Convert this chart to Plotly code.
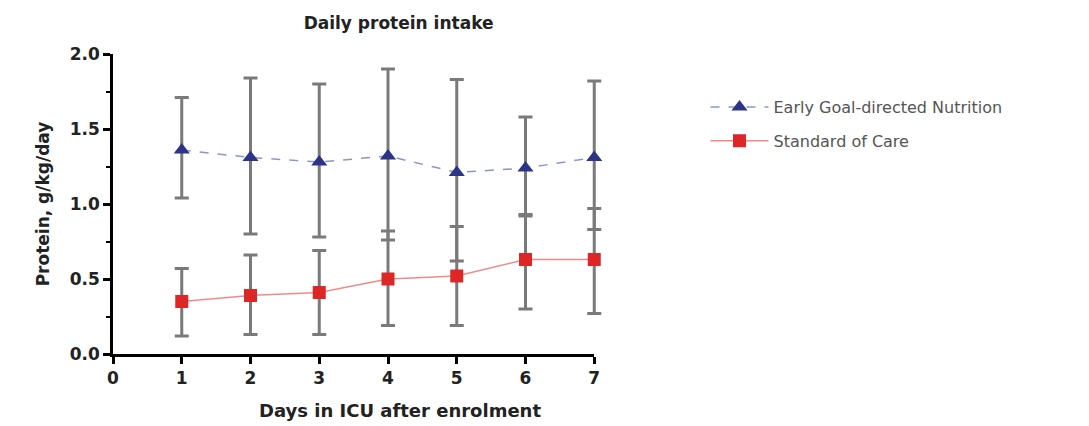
import plotly.graph_objects as go

days = [1, 2, 3, 4, 5, 6, 7]
egdn_mean = [1.36, 1.31, 1.28, 1.32, 1.21, 1.24, 1.31]
egdn_upper = [1.71, 1.84, 1.80, 1.90, 1.83, 1.58, 1.82]
egdn_lower = [1.04, 0.80, 0.78, 0.76, 0.62, 0.93, 0.83]
soc_mean = [0.35, 0.39, 0.41, 0.50, 0.52, 0.63, 0.63]
soc_upper = [0.57, 0.66, 0.69, 0.82, 0.85, 0.92, 0.97]
soc_lower = [0.12, 0.13, 0.13, 0.19, 0.19, 0.30, 0.27]

x_ticks = [0, 1, 2, 3, 4, 5, 6, 7]
y_ticks = [0.0, 0.5, 1.0, 1.5, 2.0]

FONT = "DejaVu Sans, Liberation Sans, Arial"
X_MAX = 7.2  # data axis extends a bit past day 7 so the last error-bar caps are not clipped

def err(mean, up, lo):
    return dict(type="data", symmetric=False,
                array=[u - m for u, m in zip(up, mean)],
                arrayminus=[m - l for m, l in zip(mean, lo)],
                color="#7a7a7a", thickness=3, width=7)

fig = go.Figure()
# invisible helper trace so the visible x axis (0..7) is drawn
fig.add_trace(go.Scatter(x=[0], y=[0], xaxis="x", yaxis="y", mode="markers",
                         marker=dict(opacity=0), showlegend=False, hoverinfo="skip"))
fig.add_trace(go.Scatter(
    x=days, y=egdn_mean, xaxis="x2", yaxis="y", mode="lines+markers",
    name="Early Goal-directed Nutrition", legendgroup="a", cliponaxis=False,
    line=dict(color="#8a96c8", width=1.5, dash="dash"),
    marker=dict(symbol="triangle-up", size=14, color="#2c3487"),
    error_y=err(egdn_mean, egdn_upper, egdn_lower)))
fig.add_trace(go.Scatter(
    x=days, y=soc_mean, xaxis="x2", yaxis="y", mode="lines+markers",
    name="Standard of Care", legendgroup="b", cliponaxis=False,
    line=dict(color="#f08a8a", width=1.5),
    marker=dict(symbol="square", size=13, color="#dd2626"),
    error_y=err(soc_mean, soc_upper, soc_lower)))

tickfont = dict(family=FONT, size=17, color="#222222", weight="bold")
fig.update_layout(
    width=1089, height=426,
    margin=dict(l=113, r=481, t=54, b=72),
    paper_bgcolor="white", plot_bgcolor="rgba(0,0,0,0)",
    title=dict(text="<b>Daily protein intake</b>", x=0.366, xanchor="center",
               y=0.945, yanchor="middle",
               font=dict(family=FONT, size=17, color="#222222")),
    showlegend=True,
    legend=dict(x=1.197, y=0.88, xanchor="left", yanchor="top",
                font=dict(family=FONT, size=16, color="#555555"),
                bgcolor="rgba(0,0,0,0)", itemwidth=58, tracegroupgap=10),
    xaxis=dict(range=[0, 7], domain=[0, 7 / X_MAX], anchor="y",
               tickvals=x_ticks, ticktext=[str(v) for v in x_ticks],
               showgrid=False, zeroline=False, showline=True, linecolor="black",
               linewidth=2.5, ticks="outside", tickwidth=2.5, ticklen=7, tickcolor="black",
               tickfont=tickfont),
    xaxis2=dict(range=[0, X_MAX], domain=[0, 1], anchor="y", showgrid=False,
                zeroline=False, showline=False, showticklabels=False, ticks=""),
    yaxis=dict(range=[0, 2], anchor="x", tickvals=y_ticks, ticktext=["%.1f" % v for v in y_ticks],
               showgrid=False, zeroline=False, showline=True, linecolor="black",
               linewidth=2.5, ticks="outside", tickwidth=2.5, ticklen=7, tickcolor="black",
               minor=dict(dtick=0.25, ticks="outside", ticklen=4, tickwidth=2, tickcolor="black"),
               tickfont=tickfont,
               title=dict(text="<b>Protein, g/kg/day</b>",
                          font=dict(family=FONT, size=17, color="#222222"), standoff=16)),
    annotations=[dict(text="<b>Days in ICU after enrolment</b>", xref="paper", yref="paper",
                      x=0.58, y=-0.187, xanchor="center", yanchor="middle", showarrow=False,
                      font=dict(family=FONT, size=18, color="#222222"))],
)
fig.write_html("out.html")
